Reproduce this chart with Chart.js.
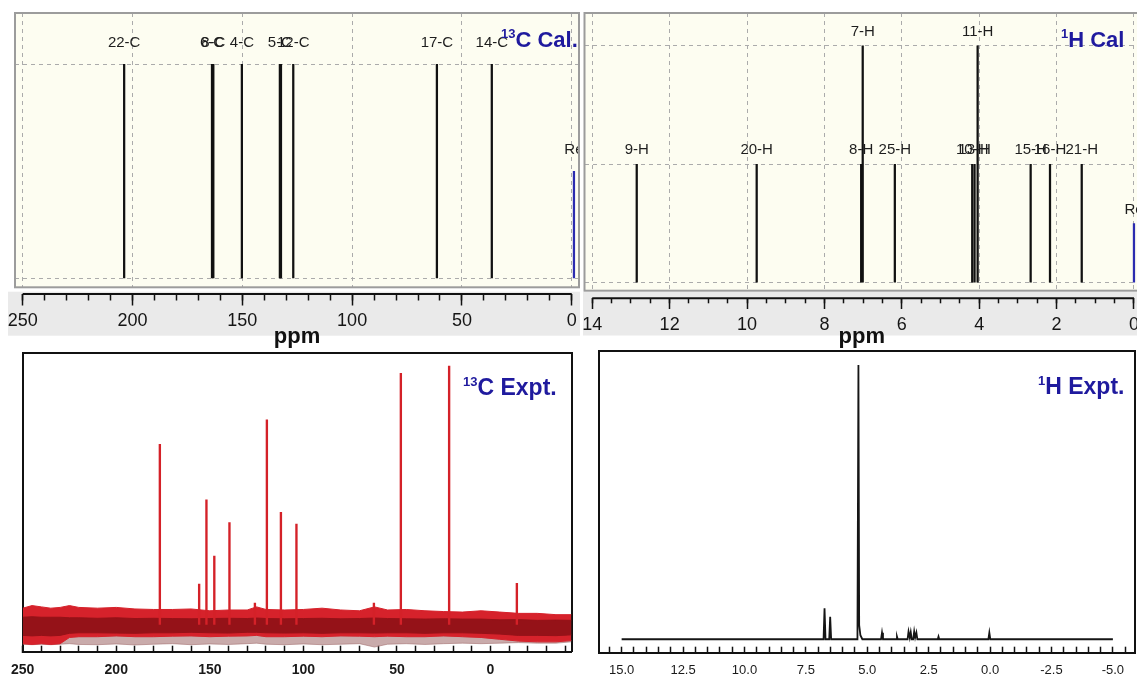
<!DOCTYPE html>
<html><head><meta charset="utf-8">
<script src="https://cdn.jsdelivr.net/npm/chart.js@4.4.1/dist/chart.umd.min.js"></script>
<style>
html,body{margin:0;padding:0;background:#fff;width:1137px;height:678px;overflow:hidden;position:relative}
.cv{position:absolute}
.title{position:absolute;color:#1f1a9e;font-weight:bold;font-family:Arial,"Liberation Sans",sans-serif;white-space:nowrap;line-height:1}
.sp{font-size:13px;position:relative;top:-9px}
.clip{position:absolute;overflow:hidden}
</style></head><body>
<canvas id="c1" class="cv" style="left:0;top:0" width="582" height="350"></canvas>
<canvas id="c2" class="cv" style="left:575px;top:0" width="572" height="350"></canvas>
<canvas id="c3" class="cv" style="left:0;top:340px" width="582" height="338"></canvas>
<canvas id="c4" class="cv" style="left:583px;top:340px" width="554" height="338"></canvas>
<div class="clip" style="left:0;top:0;width:578px;height:100px"><div class="title" style="left:501px;top:29px;font-size:22px"><span class="sp">13</span>C Cal.</div></div>
<div class="title" style="left:1061px;top:29px;font-size:22px"><span class="sp">1</span>H Cal</div>
<div class="title" style="left:463px;top:376px;font-size:23px"><span class="sp">13</span>C Expt.</div>
<div class="title" style="left:1038px;top:375px;font-size:23px"><span class="sp">1</span>H Expt.</div>
<script>
// ---------- 13C calculated ----------
const cCalPpm    = [203.8, 163.8, 163.2, 150.2, 132.9, 132.4, 126.8, 61.4, 36.4];
const cCalHeight = [1, 1, 1, 1, 1, 1, 1, 1, 1];
const cCalLabels = ['22-C', '6-C', '8-C', '4-C', '5-C', '', '12-C', '17-C', '14-C'];
const cRefPpm = [-1.0];
const cRefHeight = [0.5];
const cRefLabels = ['Re'];
const cCalTicks = [250, 200, 150, 100, 50, 0];
const cCalTickLabels = ['250', '200', '150', '100', '50', '0'];

// ---------- 1H calculated ----------
const hCalPpm    = [12.85, 9.75, 7.05, 7.01, 6.18, 4.18, 4.12, 4.04, 2.67, 2.17, 1.35];
const hCalHeight = [0.5, 0.5, 0.5, 1, 0.5, 0.5, 0.5, 1, 0.5, 0.5, 0.5];
const hCalLabels = ['9-H', '20-H', '8-H', '7-H', '25-H', '10-H', '13-H', '11-H', '15-H', '16-H', '21-H'];
const hRefPpm = [0.0];
const hRefHeight = [0.25];
const hRefLabels = ['Re'];
const hCalTicks = [14, 12, 10, 8, 6, 4, 2, 0];
const hCalTickLabels = ['14', '12', '10', '8', '6', '4', '2', '0'];

// ---------- 13C experimental ----------
const cExpPpm = [176.7, 155.7, 151.8, 147.6, 139.5, 125.9, 119.5, 112.0, 103.7, 62.3, 47.9, 22.1, -14.1];
const cExpInt = [69.8, 15.8, 48.3, 26.6, 39.5, 8.5, 79.2, 43.5, 39.0, 8.5, 97.2, 100, 16.1];
const noisePpm = [250, 245, 240, 235, 230, 225, 220, 210, 200, 190, 180, 170, 160, 150, 140, 130, 125, 120, 110, 100, 90, 80, 70, 62, 55, 45, 35, 25, 15, 5, -5, -15, -25, -35, -43.3];
const noiseUp  = [6.5, 7.5, 7.0, 6.5, 6.8, 7.5, 6.8, 6.5, 6.8, 6.2, 6.0, 6.0, 6.2, 5.5, 5.8, 5.8, 7.0, 6.0, 5.8, 6.0, 6.5, 5.8, 5.5, 7.0, 5.8, 6.0, 5.5, 5.2, 5.0, 5.5, 5.0, 4.5, 4.5, 4.0, 4.0];
const noiseLo  = [-7.2, -7.5, -7.2, -7.5, -7.2, -4.8, -4.5, -4.5, -4.2, -4.5, -4.5, -4.3, -4.2, -4.5, -4.3, -4.2, -4.0, -4.5, -4.5, -4.3, -4.5, -4.2, -4.3, -4.5, -4.3, -4.5, -4.5, -4.2, -4.5, -4.8, -5.5, -6.2, -6.5, -6.5, -6.0];
const coreUp   = [3.0, 3.2, 3.0, 3.0, 3.0, 2.8, 2.8, 2.6, 2.8, 2.5, 2.6, 2.5, 2.4, 2.5, 2.6, 2.5, 2.7, 2.5, 2.4, 2.5, 2.6, 2.4, 2.5, 2.7, 2.5, 2.4, 2.3, 2.4, 2.3, 2.3, 2.0, 2.1, 1.8, 1.9, 1.8];
const coreLo   = [-4.0, -4.2, -4.0, -4.2, -4.0, -3.2, -3.0, -3.0, -3.1, -3.2, -3.0, -3.0, -2.8, -3.0, -3.1, -2.8, -2.8, -3.0, -3.1, -3.0, -3.2, -3.0, -3.0, -3.1, -3.0, -3.0, -3.2, -3.0, -3.0, -3.2, -3.5, -4.0, -4.0, -4.1, -3.8];
const fringeLo = [-7.4, -7.6, -7.4, -7.6, -7.4, -7.2, -7.5, -7.6, -7.3, -7.7, -7.4, -7.2, -7.6, -7.3, -7.5, -7.2, -7.0, -7.4, -7.6, -7.3, -7.6, -7.4, -7.2, -8.5, -7.4, -7.2, -7.5, -7.2, -7.0, -7.2, -7.0, -6.8, -7.0, -7.0, -6.5];
const cExpTickLabels = [250, 200, 150, 100, 50, 0];

// ---------- 1H experimental ----------
const hExpPpm = [15.0, 6.78, 6.74, 6.70, 6.55, 6.51, 6.47, 5.40, 5.36, 5.33, 5.28, 5.20, 4.44, 4.40, 4.36, 3.82, 3.79, 3.76, 3.36, 3.32, 3.27, 3.23, 3.19, 3.13, 3.09, 3.05, 3.00, 2.96, 2.13, 2.10, 2.07, 0.07, 0.03, -0.01, -5.0];
const hExpInt = [0, 0, 11.3, 0, 0, 8.2, 0, 0, 100, 5.2, 1.5, 0, 0, 2.4, 0, 0, 0.95, 0, 0, 2.8, 0.6, 2.6, 0, 0, 2.8, 0.6, 2.4, 0, 0, 0.95, 0, 0, 2.4, 0, 0];
const hExpTickLabels = [15, 12.5, 10, 7.5, 5, 2.5, 0, -2.5, -5];

// ---------------------------------------------------------------
const common = {responsive:false, animation:false, events:[], plugins:{legend:{display:false}, tooltip:{enabled:false}}};
const setTicks = vals => s => { s.ticks = vals.map(v => ({value:v})); };

const peakLabelPlugin = {
  id:'peakLabels',
  afterDatasetsDraw(ch, args, opts) {
    const {ctx, chartArea:a} = ch;
    ctx.save();
    ctx.beginPath(); ctx.rect(a.left, a.top, a.width, a.height); ctx.clip();
    ctx.font = opts.font; ctx.fillStyle = '#1e1e1e'; ctx.textAlign = 'center'; ctx.textBaseline = 'middle';
    ch.data.datasets.forEach((ds, di) => {
      if (!ds.peakLabels) return;
      ch.getDatasetMeta(di).data.forEach((el, i) => {
        const t = ds.peakLabels[i];
        if (t) ctx.fillText(t, el.x, el.y - opts.offset);
      });
    });
    ctx.restore();
  }
};

function calcChart(id, p) {
  const decor = {
    id:'decor',
    beforeDraw(ch) {
      const {ctx, chartArea:a} = ch;
      ctx.save();
      ctx.fillStyle = '#eaeaea'; ctx.fillRect(p.strip[0], p.strip[1], p.strip[2], p.strip[3]);
      ctx.fillStyle = '#fdfdf1'; ctx.fillRect(a.left, a.top, a.width, a.height);
      ctx.restore();
    },
    afterDraw(ch) {
      const {ctx, chartArea:a} = ch;
      const sx = ch.scales.x;
      ctx.save();
      ctx.strokeStyle = '#9c9c9c'; ctx.lineWidth = 2;
      ctx.strokeRect(a.left, a.top, a.width, a.height);
      ctx.strokeStyle = '#111'; ctx.lineWidth = 2;
      ctx.beginPath();
      ctx.moveTo(sx.getPixelForValue(p.major[0]), sx.top);
      ctx.lineTo(sx.getPixelForValue(p.major[p.major.length - 1]), sx.top);
      ctx.stroke();
      ctx.restore();
    }
  };
  const xBase = {type:'linear', position:'bottom', reverse:true, min:p.xmin, max:p.xmax, offset:false};
  return new Chart(document.getElementById(id), {
    type:'bar',
    data:{datasets:[
      {type:'bar', data:p.ppm.map((x, i) => ({x, y:p.h[i]})), backgroundColor:'#111', borderWidth:0, barThickness:1.6, grouped:false, peakLabels:p.labels},
      {type:'bar', data:p.refPpm.map((x, i) => ({x, y:p.refH[i]})), backgroundColor:'#2b2bb0', borderWidth:0, barThickness:1.6, grouped:false, peakLabels:p.refLabels}
    ]},
    options:{...common,
      layout:{padding:p.pad},
      plugins:{...common.plugins, peakLabels:{font:p.labelFont, offset:p.labelOffset}},
      scales:{
        xg:{...xBase, weight:0, afterBuildTicks:setTicks(p.major),
            grid:{drawOnChartArea:true, drawTicks:false, color:'#ababab', lineWidth:1, offset:false},
            border:{display:false, dash:[4, 4]}, ticks:{display:false}, afterFit:s => { s.height = p.gap; }},
        xm:{...xBase, weight:1, afterBuildTicks:setTicks(p.minor),
            grid:{drawOnChartArea:false, tickLength:p.minorLen, tickWidth:1.5, tickColor:'#111', offset:false},
            border:{display:false}, ticks:{display:false}, afterFit:s => { s.height = 0; }},
        x:{...xBase, weight:2, afterBuildTicks:setTicks(p.major),
           grid:{drawOnChartArea:false, tickLength:p.majorLen, tickWidth:1.5, tickColor:'#111', offset:false},
           border:{display:false},
           ticks:{autoSkip:false, maxRotation:0, padding:p.tickPad, color:'#151515',
                  font:{family:'Arial, "Liberation Sans"', size:18},
                  callback:(v, i) => p.majorLabels[i]},
           title:{display:true, text:'ppm', color:'#111', padding:0, font:{family:'Arial, "Liberation Sans"', weight:'bold', size:22}},
           afterFit:s => { s.height = p.xh; }},
        y:{type:'linear', position:'left', min:p.ymin, max:p.ymax, afterBuildTicks:setTicks(p.yGrid),
           grid:{color:'#ababab', lineWidth:1, drawTicks:false}, border:{display:false, dash:[4, 4]},
           ticks:{display:false}, afterFit:s => { s.width = 0; }}
      }
    },
    plugins:[decor, peakLabelPlugin]
  });
}

const cMinor = []; for (let v = 250; v >= 0; v -= 10) cMinor.push(v);
calcChart('c1', {
  ppm:cCalPpm, h:cCalHeight, labels:cCalLabels, refPpm:cRefPpm, refH:cRefHeight, refLabels:cRefLabels,
  major:cCalTicks, majorLabels:cCalTickLabels, minor:cMinor,
  xmin:-3.3, xmax:253.5, ymin:-0.042, ymax:1.24, yGrid:[0, 1],
  pad:{left:15, top:13, right:3, bottom:0}, gap:6.7, xh:56, majorLen:11.5, minorLen:6.5, tickPad:5,
  strip:[8, 291.7, 572, 44], labelFont:'15px Arial, "Liberation Sans"', labelOffset:21
});

const hMinor = []; for (let k = 28; k >= 0; k--) hMinor.push(k / 2);
calcChart('c2', {
  ppm:hCalPpm, h:hCalHeight, labels:hCalLabels, refPpm:hRefPpm, refH:hRefHeight, refLabels:hRefLabels,
  major:hCalTicks, majorLabels:hCalTickLabels, minor:hMinor,
  xmin:-0.13, xmax:14.2, ymin:-0.034, ymax:1.139, yGrid:[0, 0.5, 1],
  pad:{left:9.5, top:13, right:8, bottom:0}, gap:7.6, xh:51.7, majorLen:10.7, minorLen:5, tickPad:5,
  strip:[8, 292, 564, 43.5], labelFont:'15px Arial, "Liberation Sans"', labelOffset:14
});

function exptChart(id, p, datasets) {
  const xBase = {type:'linear', reverse:true, min:p.xmin, max:p.xmax, offset:false};
  const yBase = {type:'linear', min:p.ymin, max:p.ymax};
  const frameBorder = {display:true, color:'#111', width:2};
  return new Chart(document.getElementById(id), {
    type:'bar',
    data:{datasets},
    options:{...common,
      layout:{padding:p.pad},
      scales:{
        x:{...xBase, position:'bottom', weight:0, afterBuildTicks:setTicks(p.ticks),
           grid:{drawOnChartArea:false, offset:false, tickLength:-6, tickWidth:1.5, tickColor:'#111'},
           border:frameBorder, ticks:{display:false},
           afterFit:s => { s.height = 0; }},
        xl:{...xBase, position:'bottom', weight:1, afterBuildTicks:setTicks(p.labelTicks),
           grid:{drawOnChartArea:false, drawTicks:false, offset:false},
           border:{display:false},
           ticks:{autoSkip:false, maxRotation:0, padding:p.tickPad, color:'#1a1a1a', font:p.font, callback:v => p.fmt(v)},
           afterFit:s => { s.height = p.xh; }},
        xt:{...xBase, position:'top', grid:{drawOnChartArea:false, drawTicks:false}, border:frameBorder,
            ticks:{display:false}, afterFit:s => { s.height = 0; }},
        y:{...yBase, position:'left', grid:{drawOnChartArea:false, drawTicks:false}, border:frameBorder,
           ticks:{display:false}, afterFit:s => { s.width = 0; }},
        yr:{...yBase, position:'right', grid:{drawOnChartArea:false, drawTicks:false}, border:frameBorder,
            ticks:{display:false}, afterFit:s => { s.width = 0; }}
      }
    }
  });
}

const pts = (xs, ys) => xs.map((x, i) => ({x, y:ys[i]}));
const band = (up, lo, color, ord) => [
  {type:'line', data:pts(noisePpm, up), borderColor:color, borderWidth:1, backgroundColor:color, pointRadius:0, tension:0, fill:'+1', order:ord},
  {type:'line', data:pts(noisePpm, lo), borderColor:color, borderWidth:1, pointRadius:0, tension:0, fill:false, order:ord}
];
const cExpTicks = []; for (let v = 250; v >= -40; v -= 10) cExpTicks.push(v);
exptChart('c3', {
  xmin:-43.3, xmax:250, ymin:-10.3, ymax:104.9, ticks:cExpTicks, labelTicks:cExpTickLabels,
  pad:{left:22.7, top:13.3, right:10.5, bottom:0}, xh:26.3, tickPad:10,
  font:{family:'Arial, "Liberation Sans"', weight:'bold', size:14},
  fmt:v => String(v)
}, [
  ...band(noiseLo, fringeLo, 'rgba(165,115,115,0.6)', 4),
  ...band(noiseUp, noiseLo, '#d6222b', 3),
  ...band(coreUp, coreLo, '#951218', 2),
  {type:'bar', data:pts(cExpPpm, cExpInt), backgroundColor:'#d42128', borderWidth:0, barThickness:1.7, order:1}
]);

const hExpTicks = []; for (let k = 31; k >= -11; k--) hExpTicks.push(k / 2);
exptChart('c4', {
  xmin:-5.9, xmax:15.93, ymin:-4.9, ymax:105.1, ticks:hExpTicks, labelTicks:hExpTickLabels,
  pad:{left:15.8, top:11, right:2, bottom:0}, xh:25.3, tickPad:9.5,
  font:{family:'Arial, "Liberation Sans"', size:13},
  fmt:v => v.toFixed(1)
}, [
  {type:'line', data:pts(hExpPpm, hExpInt), borderColor:'#151515', borderWidth:1.8, pointRadius:0, tension:0, fill:false}
]);
</script>
</body></html>
